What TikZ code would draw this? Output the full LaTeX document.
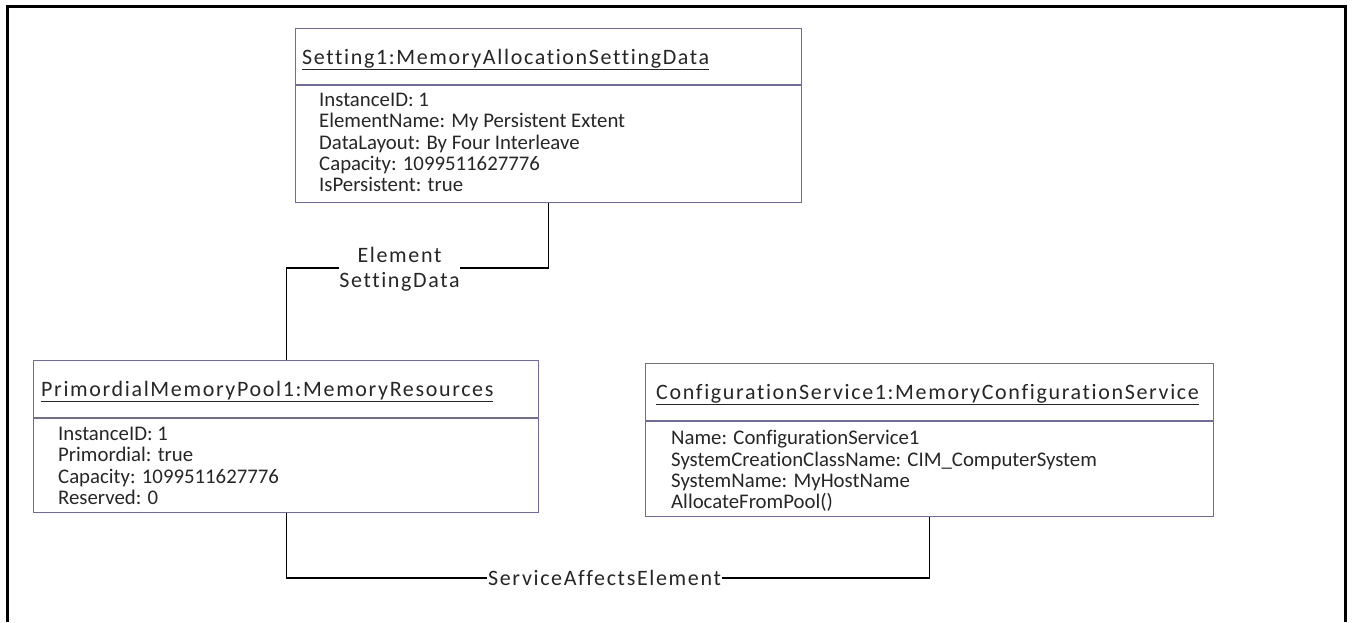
\documentclass[tikz,border=0pt]{standalone}
\usepackage{fontspec}
\setmainfont[Ligatures=CommonOff]{Carlito}
\newfontfamily\trackfont[LetterSpace=7.5,Ligatures=CommonOff]{Carlito}
\definecolor{boxc}{RGB}{112,108,160}
\begin{document}
\begin{tikzpicture}[x=1pt,y=-1pt,
  umlbox/.style={draw=boxc,line width=1.3pt,inner sep=0pt,anchor=north west},
  divider/.style={draw=boxc,line width=1.3pt},
  conn/.style={draw=black,line width=1.3pt},
  frameline/.style={draw=black,line width=2.6pt},
  bodytxt/.style={font=\fontsize{20.8}{24}\selectfont,anchor=base west,inner sep=0pt,text=black!85},
  titletxt/.style={font=\trackfont\fontsize{22}{26}\selectfont,anchor=base west,inner sep=0pt,text=black!85},
  labeltxt/.style={font=\trackfont\fontsize{22}{26}\selectfont,inner sep=0pt,text=black!85}]
\useasboundingbox (0,0) rectangle (1353,622);
% outer frame
\draw[frameline] (7.5,622) -- (7.5,6.5) -- (1345.5,6.5) -- (1345.5,622);

% Box A
\node[umlbox,minimum width=506pt,minimum height=174pt] (A) at (295,28) {};
\draw[divider] (A.west |- 0,85) -- (A.east |- 0,85);
\node[titletxt] (At) at (302,64) {\underline{Setting1:MemoryAllocationSettingData}};
\foreach \t [count=\i] in {InstanceID: 1,ElementName: My Persistent Extent,DataLayout: By Four Interleave,Capacity: 1099511627776,IsPersistent: true}
  \node[bodytxt] (a\i) at (319,85.4+21.2*\i) {\t};

% Box B
\node[umlbox,minimum width=505pt,minimum height=152pt] (B) at (33,360) {};
\draw[divider] (B.west |- 0,418) -- (B.east |- 0,418);
\node[titletxt] (Bt) at (41,396) {\underline{PrimordialMemoryPool1:MemoryResources}};
\foreach \t [count=\i] in {InstanceID: 1,Primordial: true,Capacity: 1099511627776,Reserved: 0}
  \node[bodytxt] (b\i) at (58,418.5+21.5*\i) {\t};

% Box C
\node[umlbox,minimum width=568pt,minimum height=153pt] (C) at (645,363) {};
\draw[divider] (C.west |- 0,421) -- (C.east |- 0,421);
\node[titletxt] (Ct) at (656,399) {\underline{ConfigurationService1:MemoryConfigurationService}};
\foreach \t [count=\i] in {Name: ConfigurationService1,SystemCreationClassName: CIM\_ComputerSystem,SystemName: MyHostName,AllocateFromPool()}
  \node[bodytxt] (c\i) at (671,423.4+21.3*\i) {\t};

% ElementSettingData association
\node[labeltxt,anchor=base] (el) at (399.5,262) {Element};
\node[labeltxt,anchor=base] (sd) at (399.5,287) {SettingData};
\coordinate (g1) at (339,268);
\coordinate (g2) at (460,268);
\draw[conn] (A.south) |- (g2);
\draw[conn] (g1) -| (B.north);

% ServiceAffectsElement association
\node[labeltxt,inner xsep=1pt] (sae) at (604.5,578) {ServiceAffectsElement};
\draw[conn] (B.south) |- (sae.west);
\draw[conn] (sae.east) -| (C.south);
\end{tikzpicture}
\end{document}
